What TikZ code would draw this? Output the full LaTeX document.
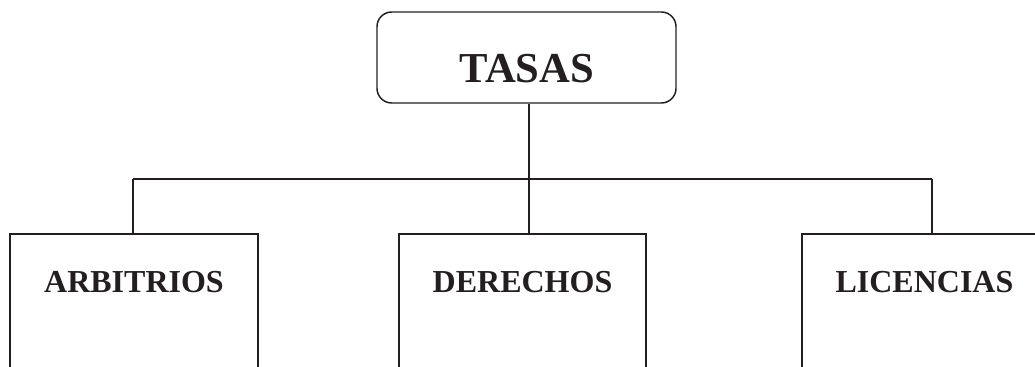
\documentclass[tikz,border=0pt]{standalone}
\usepackage{fontspec}
\setmainfont{Liberation Serif}
\definecolor{inkgray}{RGB}{35,31,32}
\tikzset{every picture/.style={line width=1.1pt}}
\tikzset{
	boxnode/.style={draw=inkgray, rectangle, inner sep=0pt, minimum height=124.5pt},
	headnode/.style={draw=inkgray, rectangle, rounded corners=11pt, inner sep=0pt, minimum width=224.25pt, minimum height=68.25pt},
	headtext/.style={anchor=base, text=inkgray, font=\fontsize{32}{38}\selectfont\bfseries},
	itemtext/.style={anchor=base, text=inkgray, font=\fontsize{24}{29}\selectfont\bfseries}}

\begin{document}
\begin{tikzpicture}[x=0.75pt,y=0.75pt,yscale=-1,xscale=1]
	\useasboundingbox (0,0) rectangle (1035,367);

	%Shape: Rounded Rect [id:tasas] 
	\node [headnode] (tasas) at (526.5,57.5) {};
	%Shape: Rectangle [id:arbitrios] 
	\node [boxnode, minimum width=186pt] (arbitrios) at (134,317) {};
	%Shape: Rectangle [id:derechos] 
	\node [boxnode, minimum width=185.25pt] (derechos) at (522.5,317) {};
	%Shape: Rectangle [id:licencias] 
	\node [boxnode, minimum width=183.75pt] (licencias) at (924.5,317) {};

	%Straight Lines [id:bar] 
	\coordinate (barL) at (133,179);
	\coordinate (barM) at (529,179);
	\coordinate (barR) at (932,179);
	\draw [inkgray] (barL) -- (barR) ;
	\draw [inkgray] (tasas.south -| barM) -- (barM |- derechos.north) ;
	\draw [inkgray] (barL) -- (barL |- arbitrios.north) ;
	\draw [inkgray] (barR) -- (barR |- licencias.north) ;

	% Text Node
	\node [headtext] (tasaslbl) at (527,83) {TASAS};
	% Text Node
	\node [itemtext] (arbitrioslbl) at (134,292) {ARBITRIOS};
	% Text Node
	\node [itemtext] (derechoslbl) at (522.5,292) {DERECHOS};
	% Text Node
	\node [itemtext] (licenciaslbl) at (924.5,292) {LICENCIAS};

\end{tikzpicture}
\end{document}
